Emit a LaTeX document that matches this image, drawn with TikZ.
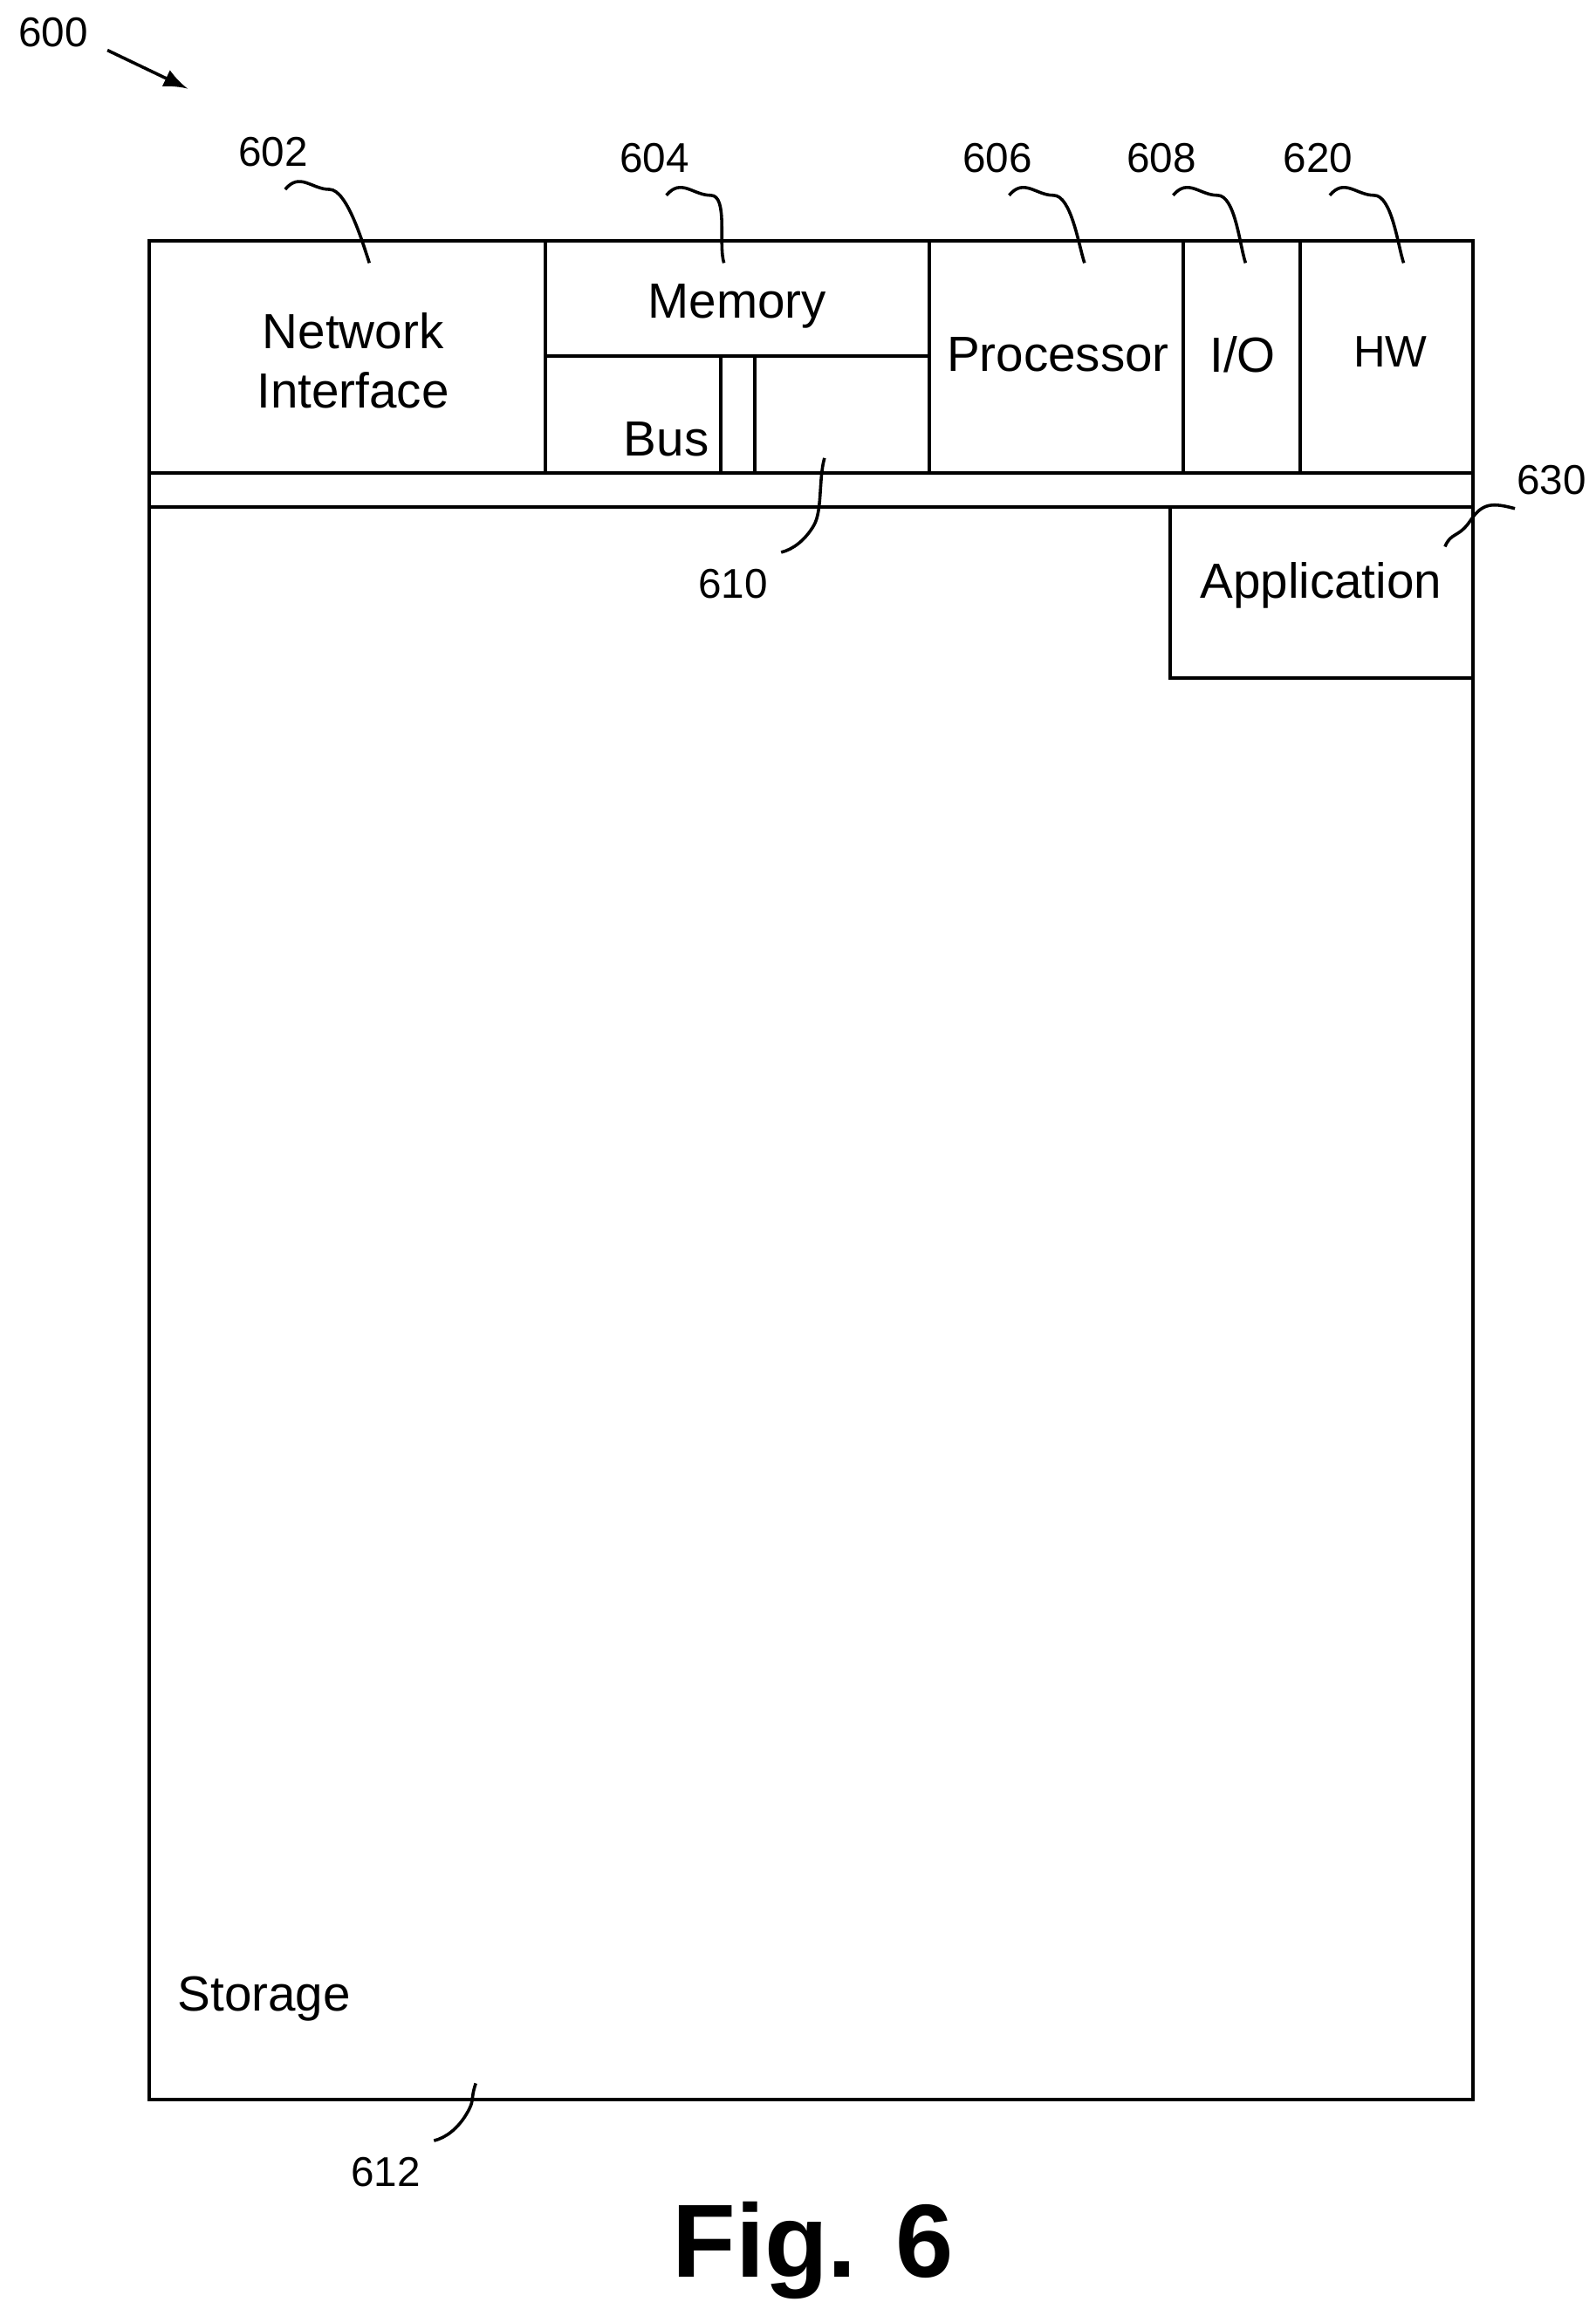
\documentclass[tikz,border=0pt]{standalone}
\usepackage{fontspec}
\setmainfont{Liberation Sans}
\begin{document}
\begin{tikzpicture}[x=0.01cm,y=-0.01cm,line width=0.7pt,
  lbl/.style={font=\fontsize{8}{9}\selectfont,inner sep=0},
  txt/.style={font=\fontsize{9.5}{11.5}\selectfont,inner sep=0,align=center},
  lead/.style={line width=0.6pt}]
\useasboundingbox (0,0) rectangle (1080,1558);
% boxes
\draw (101,163) rectangle (997,320);
\draw (101,320) rectangle (997,343);
\draw (101,343) rectangle (997,1421);
\foreach \x in {369,629,801,880} \draw (\x,163) -- (\x,320);
\draw (369,241) -- (629,241);
\draw (488,241) -- (488,320);
\draw (511,241) -- (511,320);
\draw (792,343) rectangle (997,459);
% texts
\node[txt] (ni) at (239,244) {Network\\Interface};
\node[txt] (mem) at (499,207) {Memory};
\node[txt] (bus) at (451,297) {Bus};
\node[txt] (proc) at (716,240) {Processor};
\node[txt] (io) at (841,240) {I/O};
\node[txt,font=\fontsize{8.5}{10}\selectfont] (hw) at (941,238) {HW};
\node[txt] (app) at (894,396) {Application};
\node[txt,anchor=west] (sto) at (119,1353) {Storage};
\node[font=\bfseries\fontsize{20}{24}\selectfont,inner sep=0] (fig) at (550,1523) {Fig. 6};
% labels
\node[lbl] (l600) at (36,22) {600};
\node[lbl] (l602) at (185,103) {602};
\node[lbl] (l604) at (443,107) {604};
\node[lbl] (l606) at (675,107) {606};
\node[lbl] (l608) at (786,107) {608};
\node[lbl] (l620) at (892,107) {620};
\node[lbl] (l630) at (1050,325) {630};
\node[lbl] (l610) at (496,395) {610};
\node[lbl] (l612) at (261,1470) {612};
\coordinate (a600) at (127,60);
\draw[lead,-latex] (l600.east)++(12,12) -- (a600);
\foreach \n/\ex in {l602/250,l604/490,l606/734,l608/843,l620/950}{
  \draw[lead] (\n.south)++(8,14) .. controls +(10,-12) and +(-12,0) .. +(30,0)
     .. controls +(12,0) and +(-4,-12) .. (\ex,178);
}
\coordinate (e630) at (978,370);
\draw[lead] (l630.south west)++(0,8) .. controls +(-15,-4) and +(8,-12) .. +(-30,8)
   .. controls +(-8,12) and +(4,-10) .. (e630);
\coordinate (e610) at (558,310);
\draw[lead] (l610.north east)++(8,-10) .. controls +(8,-2) and +(-6,10) .. +(22,-18)
   .. controls +(6,-10) and +(-4,14) .. (e610);
\coordinate (e612) at (322,1410);
\draw[lead] (l612.north east)++(8,-10) .. controls +(8,-2) and +(-6,10) .. +(22,-18)
   .. controls +(6,-10) and +(-4,12) .. (e612);
\end{tikzpicture}
\end{document}
